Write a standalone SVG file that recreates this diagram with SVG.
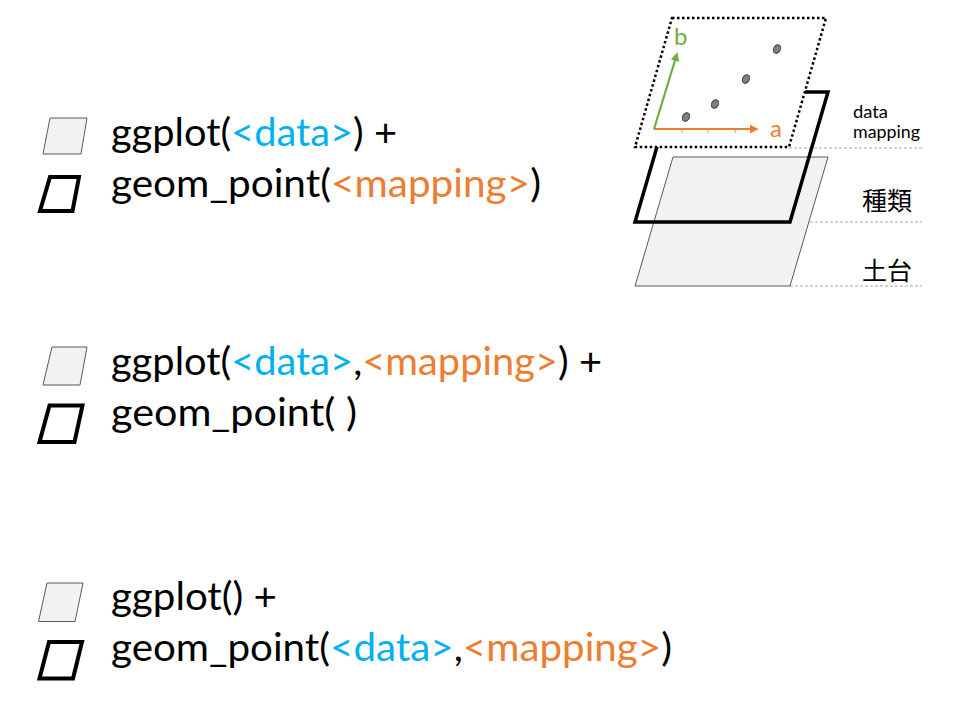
<svg xmlns="http://www.w3.org/2000/svg" width="960" height="720" viewBox="0 0 960 720">
  <style>
    .code { font-family: Lato, "Open Sans", "Liberation Sans", sans-serif; font-size: 39px; fill: #000; }
    .blue { fill: #00B0F0; }
    .orange { fill: #ED7D31; }
    .light { fill: #f2f2f2; stroke: #595959; stroke-width: 1; }
    .frame { fill: none; stroke: #000; stroke-width: 4; stroke-linejoin: miter; }
    .guide { stroke: #a6a6a6; stroke-width: 1; stroke-dasharray: 3 2; fill: none; }
    .small { font-family: Lato, "Open Sans", "Liberation Sans", sans-serif; font-size: 18px; fill: #000; }
    .cjk { font-family: "Noto Sans CJK JP", "Noto Sans CJK SC", sans-serif; font-size: 25px; fill: #000; }
    .axislbl { font-family: Lato, "Open Sans", "Liberation Sans", sans-serif; font-size: 24px; }
    .pt { fill: #7f7f7f; stroke: #404040; stroke-width: 1; }
  </style>
  <defs>
    <marker id="arrO" viewBox="0 0 10 10" refX="8" refY="5" markerWidth="4" markerHeight="4" orient="auto" markerUnits="strokeWidth">
      <path d="M0,0 L10,5 L0,10 z" fill="#ED7D31"/>
    </marker>
    <marker id="arrG" viewBox="0 0 10 10" refX="8" refY="5" markerWidth="4" markerHeight="4" orient="auto" markerUnits="strokeWidth">
      <path d="M0,0 L10,5 L0,10 z" fill="#70AD47"/>
    </marker>
  </defs>
  <rect width="960" height="720" fill="#fff"/>

  <!-- Row 1 -->
  <g id="row1">
    <polygon class="light" points="50,118 87,118 81,154 43,154"/>
    <polygon class="frame" points="50,177 79,177 72.5,211 40,211"/>
    <text class="code" x="111" y="146" textLength="286" lengthAdjust="spacingAndGlyphs">ggplot(<tspan class="blue">&lt;data&gt;</tspan>) +</text>
    <text class="code" x="111" y="197" textLength="430" lengthAdjust="spacingAndGlyphs">geom_point(<tspan class="orange">&lt;mapping&gt;</tspan>)</text>
  </g>

  <!-- Row 2 -->
  <g id="row2">
    <polygon class="light" points="52,347 87,347 80,385 43,385"/>
    <polygon class="frame" points="49.5,405.5 82.5,405.5 74.5,442 39.5,442"/>
    <text class="code" x="111" y="375" textLength="491" lengthAdjust="spacingAndGlyphs">ggplot(<tspan class="blue">&lt;data&gt;</tspan>,<tspan class="orange">&lt;mapping&gt;</tspan>) +</text>
    <text class="code" x="111" y="426" textLength="246" lengthAdjust="spacingAndGlyphs">geom_point( )</text>
  </g>

  <!-- Row 3 -->
  <g id="row3">
    <polygon class="light" points="47,583 83,583 75,621.5 38.5,621.5"/>
    <polygon class="frame" points="49,642 82,642 73,678.5 39.5,678.5"/>
    <text class="code" x="111" y="610" textLength="166" lengthAdjust="spacingAndGlyphs">ggplot() +</text>
    <text class="code" x="111" y="661" textLength="561" lengthAdjust="spacingAndGlyphs">geom_point(<tspan class="blue">&lt;data&gt;</tspan>,<tspan class="orange">&lt;mapping&gt;</tspan>)</text>
  </g>

  <!-- Layer diagram -->
  <g id="guides">
    <line class="guide" x1="789" y1="148" x2="922" y2="148"/>
    <line class="guide" x1="790" y1="222" x2="922" y2="222"/>
    <line class="guide" x1="790" y1="286" x2="922" y2="286"/>
  </g>
  <g id="layer-base">
    <polygon class="light" points="673,157 828,157 790,286 635,286"/>
  </g>
  <g id="layer-geom">
    <polygon fill="none" stroke="#000" stroke-width="3.5" points="673,92 828,92 790,222 635,222"/>
  </g>
  <g id="layer-mapping">
    <polygon fill="#fff" stroke="#000" stroke-width="2.5" stroke-dasharray="2.5 2.5" points="672,18 826,18 789,147 635,147"/>
    <g stroke="#a6a6a6" stroke-width="1">
      <line x1="682" y1="129" x2="682" y2="133"/>
      <line x1="708" y1="129" x2="708" y2="133"/>
      <line x1="735" y1="129" x2="735" y2="133"/>
    </g>
    <line x1="654" y1="129" x2="757" y2="129" stroke="#ED7D31" stroke-width="2.2" marker-end="url(#arrO)"/>
    <line x1="654" y1="129" x2="677" y2="54" stroke="#70AD47" stroke-width="2.2" marker-end="url(#arrG)"/>
    <ellipse class="pt" cx="686" cy="117" rx="3.3" ry="4.5" transform="rotate(30 686 117)"/>
    <ellipse class="pt" cx="715" cy="104" rx="3.3" ry="4.5" transform="rotate(30 715 104)"/>
    <ellipse class="pt" cx="746" cy="79" rx="3.3" ry="4.5" transform="rotate(30 746 79)"/>
    <ellipse class="pt" cx="777" cy="49" rx="3.3" ry="4.5" transform="rotate(30 777 49)"/>
    <text class="axislbl" x="770" y="137" fill="#ED7D31">a</text>
    <text class="axislbl" x="674" y="45" fill="#70AD47">b</text>
  </g>
  <g id="labels">
    <text class="small" x="853" y="118" textLength="35" lengthAdjust="spacingAndGlyphs">data</text>
    <text class="small" x="853" y="138" textLength="67" lengthAdjust="spacingAndGlyphs">mapping</text>
    <text class="cjk" x="862" y="210">種類</text>
    <text class="cjk" x="862" y="280">土台</text>
  </g>
</svg>
